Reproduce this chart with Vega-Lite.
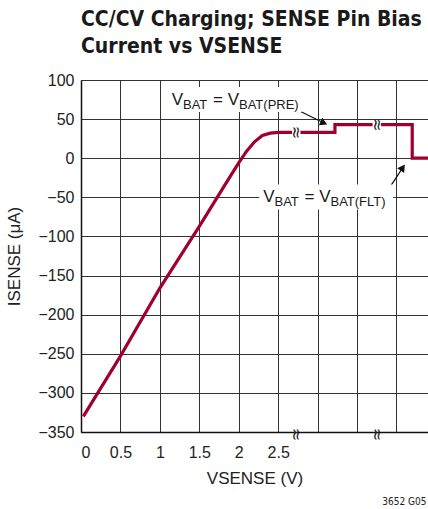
{
  "$schema": "https://vega.github.io/schema/vega-lite/v6.json",
  "autosize": {"type": "none"},
  "padding": {"left": 81, "top": 80, "right": 0, "bottom": 77},
  "width": 347,
  "height": 352,
  "background": "white",
  "title": {
    "text": ["CC/CV Charging; SENSE Pin Bias", "Current vs VSENSE"],
    "anchor": "start",
    "frame": "group",
    "font": "DejaVu Sans Condensed, sans-serif",
    "fontSize": 21,
    "fontWeight": "bold",
    "lineHeight": 27,
    "color": "#1a1a1a",
    "offset": 15
  },
  "config": {
    "view": {"stroke": null},
    "axis": {
      "labelFont": "Liberation Sans, sans-serif",
      "titleFont": "Liberation Sans, sans-serif",
      "labelFontSize": 16,
      "titleFontSize": 17,
      "titleFontWeight": "normal",
      "labelColor": "#222",
      "titleColor": "#222",
      "gridColor": "#333",
      "gridWidth": 1,
      "gridOpacity": 1,
      "domainColor": "#111",
      "domainWidth": 1.5,
      "ticks": false,
      "labelOverlap": false,
      "tickCount": 20
    }
  },
  "datasets": {
    "curve": [
      {"i": 1, "v": 0.03, "c": -330},
      {"i": 2, "v": 0.5, "c": -253},
      {"i": 3, "v": 1.0, "c": -166},
      {"i": 4, "v": 1.5, "c": -87},
      {"i": 5, "v": 1.9, "c": -22},
      {"i": 6, "v": 2.0, "c": -6},
      {"i": 7, "v": 2.1, "c": 9},
      {"i": 8, "v": 2.2, "c": 21},
      {"i": 9, "v": 2.3, "c": 29},
      {"i": 10, "v": 2.4, "c": 32},
      {"i": 11, "v": 2.5, "c": 33},
      {"i": 12, "v": 3.22, "c": 33},
      {"i": 13, "v": 3.22, "c": 43},
      {"i": 14, "v": 4.2, "c": 43},
      {"i": 15, "v": 4.2, "c": 0},
      {"i": 16, "v": 4.4, "c": 0}
    ],
    "breaks": [
      {"v": 2.73, "c": 33, "kind": "line"},
      {"v": 3.75, "c": 43, "kind": "line"},
      {"v": 2.73, "c": -353, "kind": "axis"},
      {"v": 3.75, "c": -353, "kind": "axis"}
    ],
    "labels": [
      {"v": 1.15, "c": 68, "sub": "BAT(PRE)"},
      {"v": 2.31, "c": -56.6, "sub": "BAT(FLT)"}
    ],
    "arrows": [
      {"v": 2.74, "c": 62, "v2": 3.08, "c2": 45, "ang": 24},
      {"v": 3.93, "c": -35, "v2": 4.08, "c2": -12, "ang": 304}
    ]
  },
  "layer": [
    {
      "data": {"name": "curve"},
      "mark": {"type": "line", "color": "#A0002C", "strokeWidth": 3.2, "strokeJoin": "miter"},
      "encoding": {
        "x": {
          "field": "v", "type": "quantitative",
          "scale": {"domain": [0, 4.4], "nice": false, "zero": false},
          "axis": {
            "values": [0, 0.5, 1, 1.5, 2, 2.5, 3, 3.5, 4],
            "format": "~g",
            "labelExpr": "datum.value <= 2.5 ? datum.label : ''",
            "labelPadding": 12,
            "title": "VSENSE (V)",
            "titlePadding": 10
          }
        },
        "y": {
          "field": "c", "type": "quantitative",
          "scale": {"domain": [-350, 100], "nice": false},
          "axis": {
            "values": [-350, -300, -250, -200, -150, -100, -50, 0, 50, 100],
            "labelExpr": "replace(datum.label, '-', '−')",
            "labelPadding": 7,
            "title": "ISENSE (μA)",
            "titlePadding": 14
          }
        },
        "order": {"field": "i", "type": "quantitative"}
      }
    },
    {
      "data": {"name": "breaks"},
      "transform": [{"filter": "datum.kind == 'line'"}],
      "mark": {"type": "point", "shape": "square", "filled": true, "color": "white", "size": 70, "opacity": 1},
      "encoding": {
        "x": {"field": "v", "type": "quantitative"},
        "y": {"field": "c", "type": "quantitative"}
      }
    },
    {
      "data": {"name": "breaks"},
      "mark": {"type": "text", "text": "≈", "angle": 90, "fontSize": 16, "font": "DejaVu Sans, sans-serif", "color": "#222", "baseline": "middle", "align": "center"},
      "encoding": {
        "x": {"field": "v", "type": "quantitative"},
        "y": {"field": "c", "type": "quantitative"}
      }
    },
    {
      "data": {"name": "arrows"},
      "mark": {"type": "rule", "color": "#111", "strokeWidth": 1.2},
      "encoding": {
        "x": {"field": "v", "type": "quantitative"},
        "y": {"field": "c", "type": "quantitative"},
        "x2": {"field": "v2"},
        "y2": {"field": "c2"}
      }
    },
    {
      "data": {"name": "arrows"},
      "mark": {"type": "point", "shape": "triangle-right", "filled": true, "color": "#111", "size": 70, "opacity": 1},
      "encoding": {
        "x": {"field": "v2", "type": "quantitative"},
        "y": {"field": "c2", "type": "quantitative"},
        "angle": {"field": "ang", "type": "quantitative", "scale": null}
      }
    },
    {
      "data": {"name": "labels"},
      "mark": {"type": "point", "shape": "M-0.04,-0.18 H1.3 V0.07 H-0.04 Z", "filled": true, "color": "white", "opacity": 1, "size": 40000},
      "encoding": {
        "x": {"field": "v", "type": "quantitative"},
        "y": {"field": "c", "type": "quantitative"}
      }
    },
    {
      "data": {"name": "labels"},
      "mark": {"type": "text", "text": "V", "font": "Liberation Sans, sans-serif", "fontSize": 17, "color": "#1a1a1a", "baseline": "alphabetic", "align": "left"},
      "encoding": {
        "x": {"field": "v", "type": "quantitative"},
        "y": {"field": "c", "type": "quantitative"}
      }
    },
    {
      "data": {"name": "labels"},
      "mark": {"type": "text", "text": "BAT", "font": "Liberation Sans, sans-serif", "fontSize": 13, "color": "#1a1a1a", "baseline": "alphabetic", "align": "left", "dx": 11.3, "dy": 4},
      "encoding": {
        "x": {"field": "v", "type": "quantitative"},
        "y": {"field": "c", "type": "quantitative"}
      }
    },
    {
      "data": {"name": "labels"},
      "mark": {"type": "text", "text": "= V", "font": "Liberation Sans, sans-serif", "fontSize": 17, "color": "#1a1a1a", "baseline": "alphabetic", "align": "left", "dx": 41.3},
      "encoding": {
        "x": {"field": "v", "type": "quantitative"},
        "y": {"field": "c", "type": "quantitative"}
      }
    },
    {
      "data": {"name": "labels"},
      "mark": {"type": "text", "font": "Liberation Sans, sans-serif", "fontSize": 13, "color": "#1a1a1a", "baseline": "alphabetic", "align": "left", "dx": 67.3, "dy": 4},
      "encoding": {
        "x": {"field": "v", "type": "quantitative"},
        "y": {"field": "c", "type": "quantitative"},
        "text": {"field": "sub"}
      }
    },
    {
      "data": {"values": [{"t": "3652 G05"}]},
      "mark": {"type": "text", "font": "DejaVu Sans Condensed, sans-serif", "fontSize": 10, "color": "#222", "align": "right", "baseline": "middle"},
      "encoding": {
        "x": {"datum": 4.38, "type": "quantitative"},
        "y": {"datum": -439, "type": "quantitative"},
        "text": {"field": "t"}
      }
    }
  ]
}
